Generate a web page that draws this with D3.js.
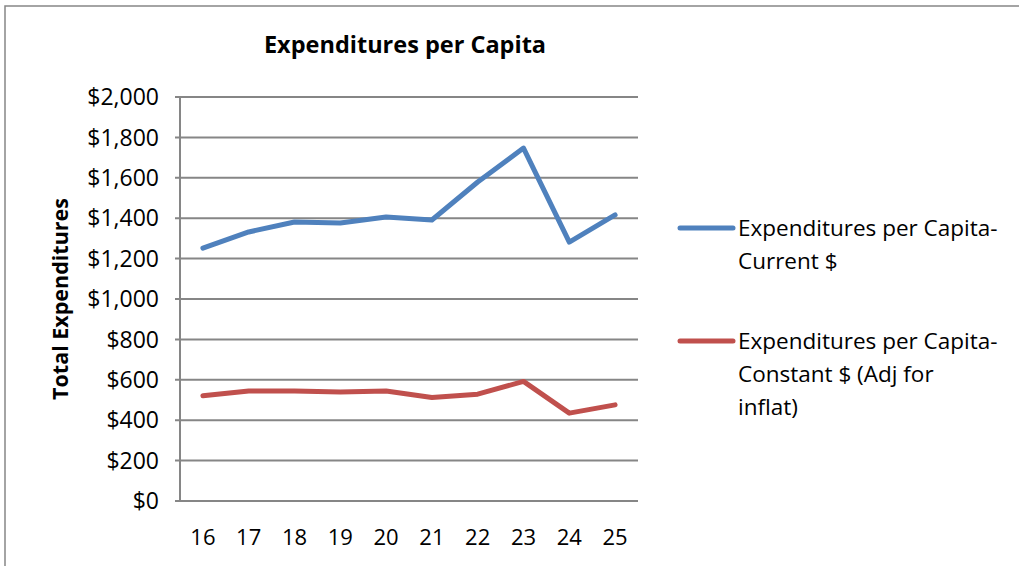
<!DOCTYPE html>
<html>
<head>
<meta charset="utf-8">
<script src="https://cdn.jsdelivr.net/npm/d3@7"></script>
<style>
  html, body { margin: 0; padding: 0; background: #fff; }
  svg text { font-family: "Open Sans", "Noto Sans", sans-serif; fill: #000; }
</style>
</head>
<body>
<svg id="chart" width="1019" height="566"></svg>
<script>
// years along the bottom
const years = ["16", "17", "18", "19", "20", "21", "22", "23", "24", "25"];
// Expenditures per Capita - Current $
const currentValues = [1252, 1332, 1381, 1376, 1406, 1391, 1579, 1747, 1282, 1416];
// Expenditures per Capita - Constant $ (Adj for inflat)
const constantValues = [521, 545, 545, 539, 545, 512, 529, 592, 435, 476];
const yTicks = [0, 200, 400, 600, 800, 1000, 1200, 1400, 1600, 1800, 2000];
const seriesNames = [
  ["Expenditures per Capita-", "Current $"],
  ["Expenditures per Capita-", "Constant $ (Adj for", "inflat)"]
];
const seriesColors = ["#4F81BD", "#C0504D"];

/* ===================================
 *  SETUP
 * =================================== */
const svg = d3.select("#chart");
const plot = { left: 180, right: 638, top: 97, bottom: 501 };

// chart border
svg.append("rect")
  .attr("x", 5).attr("y", 6)
  .attr("width", 1030).attr("height", 580)
  .attr("fill", "none")
  .attr("stroke", "#868686")
  .attr("stroke-width", 1.5);

const x = d3.scaleBand().domain(years).range([plot.left, plot.right]);
const y = d3.scaleLinear().domain([0, 2000]).range([plot.bottom, plot.top]);

/* ===================================
 *  GRID + AXES
 * =================================== */
svg.append("g")
  .selectAll("line")
  .data(yTicks)
  .join("line")
  .attr("x1", plot.left - 5)
  .attr("x2", plot.right)
  .attr("y1", d => y(d))
  .attr("y2", d => y(d))
  .attr("stroke", "#868686")
  .attr("stroke-width", 2);

svg.append("line")
  .attr("x1", plot.left).attr("x2", plot.left)
  .attr("y1", plot.top).attr("y2", plot.bottom)
  .attr("stroke", "#868686")
  .attr("stroke-width", 2);

const fmt = d3.format(",");
svg.append("g")
  .selectAll("text")
  .data(yTicks)
  .join("text")
  .attr("x", plot.left - 21)
  .attr("y", d => y(d))
  .attr("dy", "0.36em")
  .attr("text-anchor", "end")
  .attr("font-size", 23)
  .text(d => "$" + fmt(d));

svg.append("g")
  .selectAll("text")
  .data(years)
  .join("text")
  .attr("x", d => x(d) + x.bandwidth() / 2)
  .attr("y", 537)
  .attr("dy", "0.36em")
  .attr("text-anchor", "middle")
  .attr("font-size", 22)
  .text(d => d);

// y axis title
svg.append("text")
  .attr("transform", "translate(60," + (plot.top + plot.bottom) / 2 + ") rotate(-90)")
  .attr("text-anchor", "middle")
  .attr("dy", "0.36em")
  .attr("font-size", 21.5)
  .attr("font-weight", "bold")
  .text("Total Expenditures");

// title
svg.append("text")
  .attr("x", 405)
  .attr("y", 45)
  .attr("dy", "0.36em")
  .attr("text-anchor", "middle")
  .attr("font-size", 23.5)
  .attr("font-weight", "bold")
  .text("Expenditures per Capita");

/* ===================================
 *  LINES
 * =================================== */
const line = d3.line()
  .x((d, i) => x(years[i]) + x.bandwidth() / 2)
  .y(d => y(d));

[currentValues, constantValues].forEach((vals, i) => {
  svg.append("path")
    .datum(vals)
    .attr("d", line)
    .attr("fill", "none")
    .attr("stroke", seriesColors[i])
    .attr("stroke-width", 5)
    .attr("stroke-linejoin", "round")
    .attr("stroke-linecap", "round");
});

/* ===================================
 *  LEGEND
 * =================================== */
const legendY = [228, 341];
seriesNames.forEach((lines, i) => {
  const g = svg.append("g").attr("transform", "translate(0," + legendY[i] + ")");
  g.append("line")
    .attr("x1", 680).attr("x2", 733)
    .attr("y1", 0).attr("y2", 0)
    .attr("stroke", seriesColors[i])
    .attr("stroke-width", 5)
    .attr("stroke-linecap", "round");
  g.selectAll("text")
    .data(lines)
    .join("text")
    .attr("x", 738)
    .attr("y", (d, j) => j * 33)
    .attr("dy", "0.36em")
    .attr("font-size", 22.5)
    .text(d => d);
});
</script>
</body>
</html>
